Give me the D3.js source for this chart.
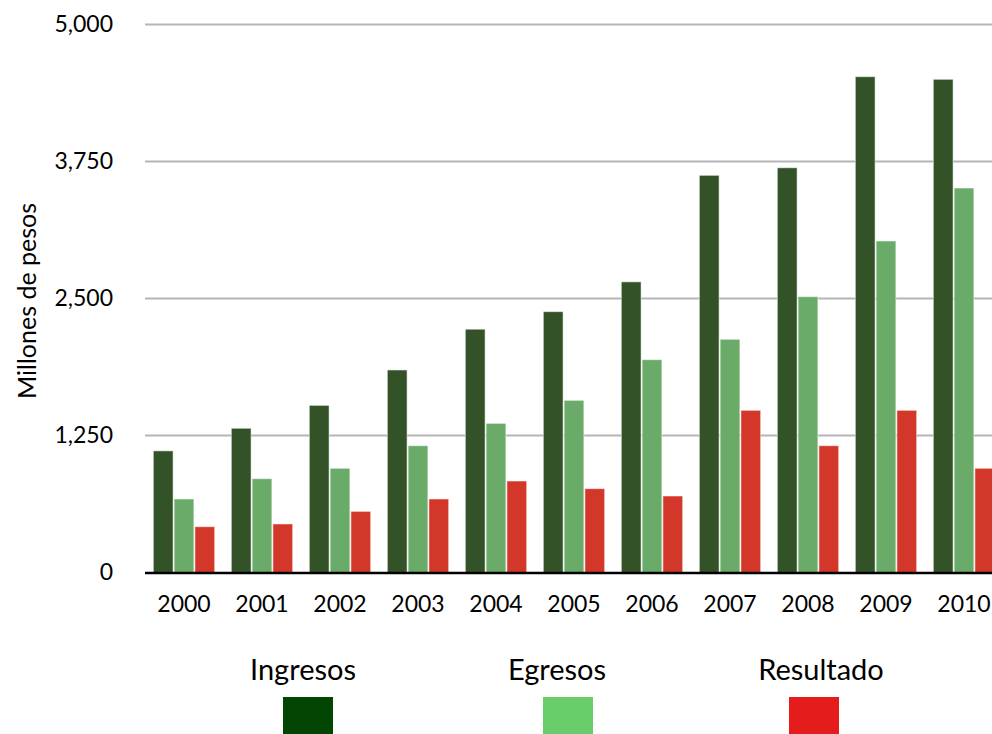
<!DOCTYPE html>
<html>
<head>
<meta charset="utf-8">
<script src="https://cdn.jsdelivr.net/npm/d3@7"></script>
<style>
  html, body { margin: 0; padding: 0; background: #ffffff; }
  svg { display: block; font-family: "Gill Sans", "Lato", "Open Sans", sans-serif; }
</style>
</head>
<body>
<svg id="chart" width="992" height="734"></svg>
<script>
const years = ["2000","2001","2002","2003","2004","2005","2006","2007","2008","2009","2010"];
const seriesNames = ["Ingresos","Egresos","Resultado"];
const ingresos  = [1110, 1316, 1525, 1848, 2220, 2380, 2652, 3624, 3693, 4524, 4500];
const egresos   = [671, 856, 951, 1157, 1361, 1571, 1942, 2128, 2517, 3025, 3508];
const resultado = [418, 443, 558, 671, 835, 765, 698, 1480, 1157, 1480, 951];
const yTicks = [0, 1250, 2500, 3750, 5000];
const yTitle = "Millones de pesos";

// style / layout (kept separate from data)
const barColors = ["#335227", "#6bab6a", "#d3372a"];
const legendColors = ["#034503", "#69cd69", "#e41c1c"];
const legendTextX = [303, 557, 821];
const legendSwatchX = [308, 568, 814];

const seriesValues = [ingresos, egresos, resultado];
const svg = d3.select("#chart");

const x0 = d3.scaleBand().domain(years).range([145, 145 + 78 * years.length])
  .paddingInner(0.2).paddingOuter(0.1);
const x1 = d3.scaleBand().domain(seriesNames).range([0, x0.bandwidth()]).padding(0);
const y = d3.scaleLinear().domain([0, 5000]).range([572.5, 24.5]);

// gridlines
svg.append("g").selectAll("line").data(yTicks.filter(d => d > 0)).join("line")
  .attr("x1", 145).attr("x2", 992)
  .attr("y1", d => y(d)).attr("y2", d => y(d))
  .attr("stroke", "#b5b5b9").attr("stroke-width", 2);

// y axis labels
const yAxis = d3.axisLeft(y).tickValues(yTicks).tickSize(0).tickPadding(0)
  .tickFormat(d3.format(","));
const yg = svg.append("g").attr("transform", "translate(113,0)").call(yAxis);
yg.select(".domain").remove();
yg.selectAll("text").attr("font-size", 23).attr("fill", "#000")
  .attr("font-family", "\"Gill Sans\", Lato, sans-serif");

// bars
const groups = svg.append("g").selectAll("g").data(years).join("g")
  .attr("transform", d => `translate(${x0(d)},0)`);
groups.selectAll("rect").data((d, i) => seriesNames.map((s, k) => ({s, k, v: seriesValues[k][i]})))
  .join("rect")
  .attr("x", d => x1(d.s) + 0.5)
  .attr("width", x1.bandwidth() - 1)
  .attr("y", d => y(d.v))
  .attr("height", d => y(0) - y(d.v))
  .attr("fill", d => barColors[d.k])
  .attr("stroke", "#ffffff").attr("stroke-opacity", 0.55).attr("stroke-width", 1);

// x axis line
svg.append("line").attr("x1", 145).attr("x2", 992)
  .attr("y1", y(0) + 0.5).attr("y2", y(0) + 0.5)
  .attr("stroke", "#000").attr("stroke-width", 2.5);

// x labels
const xAxis = d3.axisBottom(x0).tickSize(0).tickPadding(0);
const xg = svg.append("g").attr("transform", "translate(0,596)").call(xAxis);
xg.select(".domain").remove();
xg.selectAll("text").attr("font-size", 23).attr("fill", "#000")
  .attr("font-family", "\"Gill Sans\", Lato, sans-serif");

// y title
svg.append("text")
  .attr("transform", "translate(36,301) rotate(-90)")
  .attr("text-anchor", "middle")
  .attr("font-size", 25)
  .attr("fill", "#000")
  .text(yTitle);

// legend
const lg = svg.append("g").selectAll("g").data(seriesNames).join("g");
lg.append("text").attr("x", (d, i) => legendTextX[i]).attr("y", 680).attr("text-anchor", "middle")
  .attr("font-size", 29).attr("fill", "#000").text(d => d);
lg.append("rect").attr("x", (d, i) => legendSwatchX[i] - 25).attr("y", 697)
  .attr("width", 50).attr("height", 37)
  .attr("fill", (d, i) => legendColors[i]);
</script>
</body>
</html>
